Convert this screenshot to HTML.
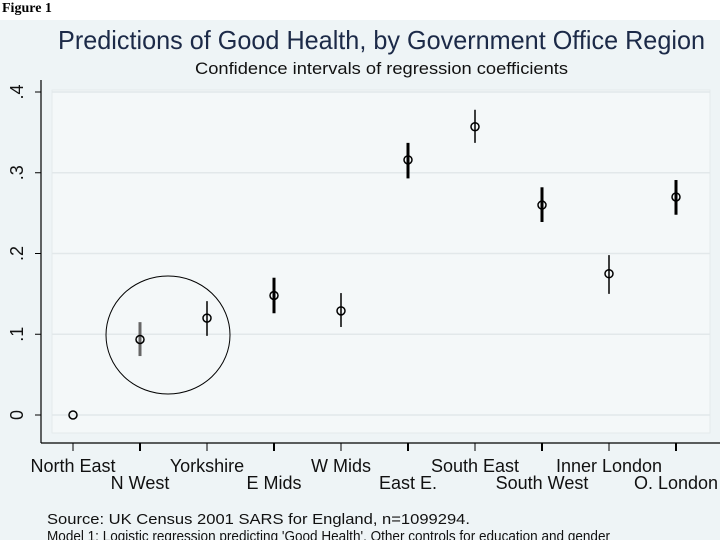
<!DOCTYPE html>
<html><head><meta charset="utf-8"><style>
body{margin:0;width:720px;height:540px;overflow:hidden;background:#fff;font-family:"Liberation Sans",sans-serif}
</style></head><body>
<svg width="720" height="540" xmlns="http://www.w3.org/2000/svg">
<rect x="0" y="20" width="720" height="520" fill="#eef4f6"/>
<text x="2" y="12" font-family="Liberation Serif" font-weight="bold" font-size="14">Figure 1</text>
<text x="58" y="49" font-size="26" fill="#1c2a48" textLength="647" lengthAdjust="spacingAndGlyphs">Predictions of Good Health, by Government Office Region</text>
<text x="195" y="74" font-size="17" fill="#111" textLength="373" lengthAdjust="spacingAndGlyphs">Confidence intervals of regression coefficients</text>
<rect x="52" y="90" width="658" height="343" fill="#f4f8f9" stroke="#e4eaec"/>
<g id="grid"></g>
<g id="marks"></g>
<line x1="41" y1="80" x2="41" y2="443" stroke="#000" stroke-width="1.2"/>
<line x1="41" y1="443" x2="720" y2="443" stroke="#000" stroke-width="1.2"/>
<g id="axes"></g>
<ellipse cx="168" cy="335" rx="62" ry="59" fill="none" stroke="#000" stroke-width="1"/>
<text x="47" y="524" font-size="15" fill="#111" textLength="423" lengthAdjust="spacingAndGlyphs">Source: UK Census 2001 SARS for England, n=1099294.</text>
<text x="47" y="541" font-size="15" fill="#111" textLength="563" lengthAdjust="spacingAndGlyphs">Model 1: Logistic regression predicting 'Good Health'. Other controls for education and gender</text>
</svg>
<script>
const categories=["North East","N West","Yorkshire","E Mids","W Mids","East E.","South East","South West","Inner London","O. London"];
const estimates=[0,0.0935,0.12,0.148,0.129,0.316,0.357,0.26,0.175,0.27];
const lower=[0,0.073,0.098,0.126,0.109,0.293,0.337,0.239,0.15,0.248];
const upper=[0,0.115,0.141,0.17,0.151,0.337,0.378,0.282,0.198,0.291];
const yTicks=[0,0.1,0.2,0.3,0.4];
const yTickLabels=["0",".1",".2",".3",".4"];
const ns="http://www.w3.org/2000/svg";
const xs=i=>73+i*67;
const ys=v=>415-v*807.5;
function mk(tag,attrs,parent){const e=document.createElementNS(ns,tag);for(const k in attrs)e.setAttribute(k,attrs[k]);document.getElementById(parent).appendChild(e);return e;}
yTicks.forEach((t,i)=>{
 const g=mk('line',{x1:52,x2:710,y1:ys(t),y2:ys(t),stroke:'#e2e8ea','stroke-width':1.5},'grid');
 
 
 const tk=mk('line',{x1:35,x2:41,y1:ys(t),y2:ys(t),stroke:'#000'},'axes');
 
 
 const tx=mk('text',{x:0,y:0,'font-size':18,'text-anchor':'middle',fill:'#111',transform:`translate(23,${ys(t)}) rotate(-90)`},'axes');
 tx.textContent=yTickLabels[i];
 
 
});
const thick=[false,true,false,true,false,true,false,true,false,true];
categories.forEach((c,i)=>{
 const x=xs(i);
 const tk=mk('line',{x1:x,x2:x,y1:443,y2:451,stroke:'#000','stroke-width':thick[i]?2:1},'axes');
 
 
 const tx=mk('text',{x:x,y:i%2?489:472,'font-size':18,'text-anchor':'middle',fill:'#111'},'axes');
 tx.textContent=c;
 
 
 if(upper[i]>lower[i]){
  const l=mk('line',{x1:x,x2:x,y1:ys(upper[i]),y2:ys(lower[i]),stroke:i===1?'#666':'#000','stroke-width':thick[i]?3:1.5},'marks');
  
  
 }
 const p=mk('circle',{cx:x,cy:ys(estimates[i]),r:4,fill:'none',stroke:'#000','stroke-width':1.5},'marks');
 
 
});
</script>
</body></html>
